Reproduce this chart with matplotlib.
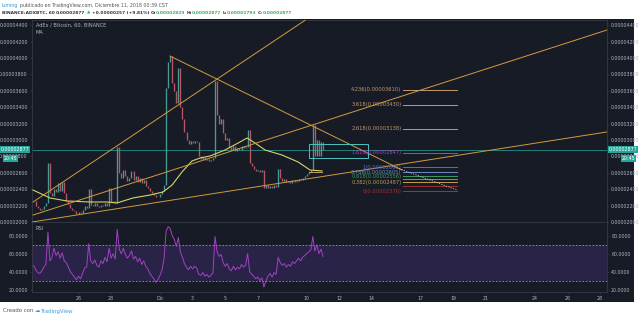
import matplotlib
matplotlib.use("Agg")
import matplotlib.pyplot as plt
import numpy as np

# prices in satoshi (1e-8 BTC), x in days with day 0 = Dec 1 00:00
# closes every 3 hours, from Nov 23 06:00
start_day = -7.75
step_day = 0.125
close = [
    2250, 2200, 2170, 2150, 2160, 2190, 2230, 2720, 2350, 2320,
    2400, 2360, 2470, 2380, 2490, 2350, 2260, 2220, 2170, 2150,
    2130, 2100, 2120, 2110, 2150, 2190, 2170, 2400, 2210, 2190,
    2230, 2200, 2180, 2210, 2190, 2230, 2200, 2410, 2240, 2260,
    2230, 2910, 2600, 2540, 2630, 2560, 2500, 2540, 2620, 2510,
    2560, 2490, 2540, 2470, 2510, 2440, 2410, 2380, 2350, 2330,
    2300, 2310, 2340, 2380, 2450, 3630, 3950, 4030, 3700, 3600,
    3450, 3880, 3400, 3250, 3100, 3000, 2950, 2990, 2960, 2990,
    2970, 2800, 2770, 2790, 2750, 2770, 2740, 2760, 2780, 3720,
    3300, 3200, 3250, 3080, 3000, 3030, 2920, 2880, 2930, 2870,
    2900, 2880, 2930, 2900, 2920, 3120, 2720, 2680, 2650, 2620,
    2640, 2610, 2640, 2420, 2450, 2410, 2440, 2420, 2450, 2430,
    2650, 2540, 2500, 2520, 2490, 2500, 2480, 2510, 2490, 2500,
    2530, 2510, 2540, 2560, 2590, 2610, 2640, 3180, 2800, 3000,
    2810, 2980, 2877,
]
rsi = [
    47, 42, 39, 38, 41, 45, 48, 84, 52, 56,
    66, 58, 62, 55, 61, 52, 50, 45, 40, 37,
    34, 31, 35, 32, 38, 44, 45, 71, 52, 49,
    53, 47, 45, 52, 49, 56, 51, 66, 55, 60,
    54, 87, 65, 60, 66, 59, 55, 58, 63, 54,
    57, 51, 55, 48, 52, 46, 43, 38, 35, 32,
    28, 31, 36, 42, 55, 85, 90, 88, 80, 76,
    68, 78, 62, 56, 49, 45, 42, 46, 43, 46,
    44, 37, 36, 39, 35, 37, 34, 36, 39, 79,
    62, 57, 59, 50, 46, 49, 43, 41, 46, 42,
    45, 43, 48, 45, 47, 60, 40, 37, 35, 32,
    34, 30, 33, 23, 30, 35, 38, 34, 39, 37,
    56, 50, 47, 49, 45, 48, 46, 51, 49, 52,
    55, 52, 56, 58, 60, 62, 64, 79, 63, 70,
    60, 65, 57,
]
ma_day = [-7.79, -6.75, -5.71, -4.29, -3.25, -2.64, -1.66, -0.61, 0.18, 0.74,
          1.35, 1.96, 2.45, 3.07, 3.99, 4.91, 5.34, 5.83, 6.44, 7.48,
          8.47, 9.20, 9.94]
ma_price = [2390, 2293, 2256, 2244, 2244, 2232, 2293, 2329, 2366, 2451,
            2610, 2744, 2780, 2805, 2878, 2976, 3024, 2963, 2878, 2817,
            2732, 2634, 2622]

# drawn trend lines: (day0, price0, day1, price1)
trend_lines = [
    (-7.79, 2244, 9.20, 4500),
    (-7.79, 2085, 27.42, 4341),
    (0.61, 4024, 14.85, 2634),
    (-7.85, 2000, 27.42, 3098),
]
fib_ratio = ["4.236", "3.618", "2.618", "1.618", "1", "0.786", "0.618", "0.5", "0.382", "0.236", "0"]
fib_price = [3610, 3430, 3138, 2847, 2667, 2605, 2556, 2521, 2487, 2445, 2376]
fib_color = ["#c49a6c", "#c49a6c", "#c49a6c", "#b23ec4", "#4a6fd6", "#6a8cc8",
             "#3c9a5f", "#4caf50", "#b7a24a", "#a03030", "#b22d2d"]
fib_label = [True, True, True, True, True, True, True, False, True, False, True]
last_price = 2877

price_ticks = list(range(2000, 4401, 200))
rsi_ticks = [20, 40, 60, 80]
date_days = [-5, -3, 0, 2, 4, 6, 9, 11, 13, 16, 18, 20, 23, 25, 27]
date_labels = ["26", "28", "Dic", "3", "5", "7", "10", "12", "14", "17", "19", "21", "24", "26", "28"]

W, H = 640, 318
BG = "#171b26"
GRID = "#363a45"
TXT = "#b2b5be"
UP = "#4fb3a8"
DOWN = "#d8606d"
TEAL = "#26a69a"


def box(x0, y0, x1, y1):
    return [x0 / W, 1 - y1 / H, (x1 - x0) / W, (y1 - y0) / H]


fig = plt.figure(figsize=(6.4, 3.18), dpi=100)
fig.patch.set_facecolor("white")

bg = fig.add_axes(box(0, 19, 634, 302))
bg.set_facecolor(BG)
bg.set_xticks([])
bg.set_yticks([])
for s in bg.spines.values():
    s.set_visible(False)

ax = fig.add_axes(box(32, 20, 607, 222))
rax = fig.add_axes(box(32, 222, 607, 292), sharex=ax)
for a in (ax, rax):
    a.set_facecolor(BG)
    for s in a.spines.values():
        s.set_color(GRID)
        s.set_linewidth(0.6)
    a.tick_params(axis="both", colors=GRID, labelcolor=TXT, labelsize=3.4,
                  length=1.5, width=0.5, pad=1.5)
    a.tick_params(axis="y", left=True, right=True, labelleft=True, labelright=True)

ax.set_xlim(-7.853, 27.42)
ax.set_ylim(2000, 4463)
rax.set_ylim(17.4, 95.2)

ax.set_yticks(price_ticks)
ax.set_yticklabels([f"{v * 1e-8:.8f}" for v in price_ticks])
ax.tick_params(axis="x", labelbottom=False, bottom=False)
rax.set_yticks(rsi_ticks)
rax.set_yticklabels([f"{v:.4f}" for v in rsi_ticks])
rax.set_xticks(date_days)
rax.set_xticklabels(date_labels)

# candles
c = np.array(close, dtype=float)
o = np.concatenate([[c[0]], c[:-1]])
days = start_day + step_day * np.arange(len(c))
cols = [UP if cc >= oo else DOWN for oo, cc in zip(o, c)]
ax.vlines(days, np.minimum(o, c), np.maximum(o, c), colors=cols, lw=0.95, alpha=0.85, zorder=3)

# MA and trend lines
ax.plot(ma_day, ma_price, color="#d6d46a", lw=0.8, zorder=4)
for d0, p0, d1, p1 in trend_lines:
    ax.plot([d0, d1], [p0, p1], color="#d39b3f", lw=0.7, zorder=4)

# pattern box and last price
ax.add_patch(plt.Rectangle((9.14, 2780), 3.62, 171, fill=False, ec="#4fc3c0", lw=0.7, zorder=5))
ax.plot([9.14, 9.94], [2610, 2610], color="#c49a6c", lw=0.7, zorder=5)
ax.axhline(last_price, color=TEAL, lw=0.5, zorder=2)

# fib extension
for r, p, col, show in zip(fib_ratio, fib_price, fib_color, fib_label):
    ax.plot([14.88, 18.2], [p, p], color=col, lw=0.7, zorder=5)
    if show:
        ax.text(14.8, p, f"{r}({p * 1e-8:.8f})", color=col, fontsize=3.7,
                ha="right", va="center", zorder=6)
ax.plot([14.23, 18.22], [2683, 2390], color="#c8c8c8", lw=0.6, ls=(0, (1.5, 1.5)), zorder=6)

# RSI
rax.axhspan(30, 70, color="#5b3a9e", alpha=0.28, lw=0)
for lvl in (70, 30):
    rax.axhline(lvl, color="#9598a1", lw=0.6, ls=(0, (2, 2)))
rax.plot(days, rsi, color="#a142c4", lw=0.7)

# panel captions
fig.text(36 / W, 1 - 25 / H, "AdEx / Bitcoin, 60, BINANCE", color=TXT, fontsize=3.6, va="center")
fig.text(36 / W, 1 - 32 / H, "MA", color=TXT, fontsize=3.6, va="center")
fig.text(36 / W, 1 - 228 / H, "RSI", color=TXT, fontsize=3.6, va="center")

# last price tags
tag = dict(boxstyle="square,pad=0.15", fc=TEAL, ec="none")
fig.text(1 / W, 1 - 149.5 / H, f"{last_price * 1e-8:.8f}", color="white", fontsize=3.4, va="center", bbox=tag)
fig.text(4 / W, 1 - 158.5 / H, "20:45", color="white", fontsize=3.4, va="center", bbox=tag)
fig.text(609 / W, 1 - 149.5 / H, f"{last_price * 1e-8:.8f}", color="white", fontsize=3.4, va="center", bbox=tag)
fig.text(622 / W, 1 - 158.5 / H, "20:45", color="white", fontsize=3.4, va="center", bbox=tag)

# header and footer texts
renderer = fig.canvas.get_renderer()


def write_runs(x_px, y_px, runs, size, weight="normal"):
    x = x_px
    space = 0.3 * size * 100 / 72
    for s, col, gap in runs:
        t = fig.text(x / W, 1 - y_px / H, s, color=col, fontsize=size, weight=weight, va="center")
        x += t.get_window_extent(renderer).width + (space if gap else 0)


GREEN = "#3cae5a"
DARK = "#333333"
write_runs(2, 5, [("luming", "#2f9fd8", True),
                  ("publicado en TradingView.com, Diciembre 11, 2018 00:39 CST", "#555555", False)], 3.45)
write_runs(2, 13, [("BINANCE:ADXBTC, 60", DARK, True), ("0.00002877", DARK, True),
                   ("\u25b2", GREEN, True), ("+0.00000257 (+9.81%)", DARK, True),
                   ("O:", DARK, False), ("0.00002829", GREEN, True),
                   ("H:", DARK, False), ("0.00002877", GREEN, True),
                   ("L:", DARK, False), ("0.00002793", GREEN, True),
                   ("C:", DARK, False), ("0.00002877", GREEN, False)], 3.2, "bold")
write_runs(3, 311, [("Creado con", "#555555", True), ("\u2601", "#3b9fd8", False),
                    ("TradingView", "#3b9fd8", False)], 3.9)

fig.savefig("out.png", dpi=100, facecolor="white")
